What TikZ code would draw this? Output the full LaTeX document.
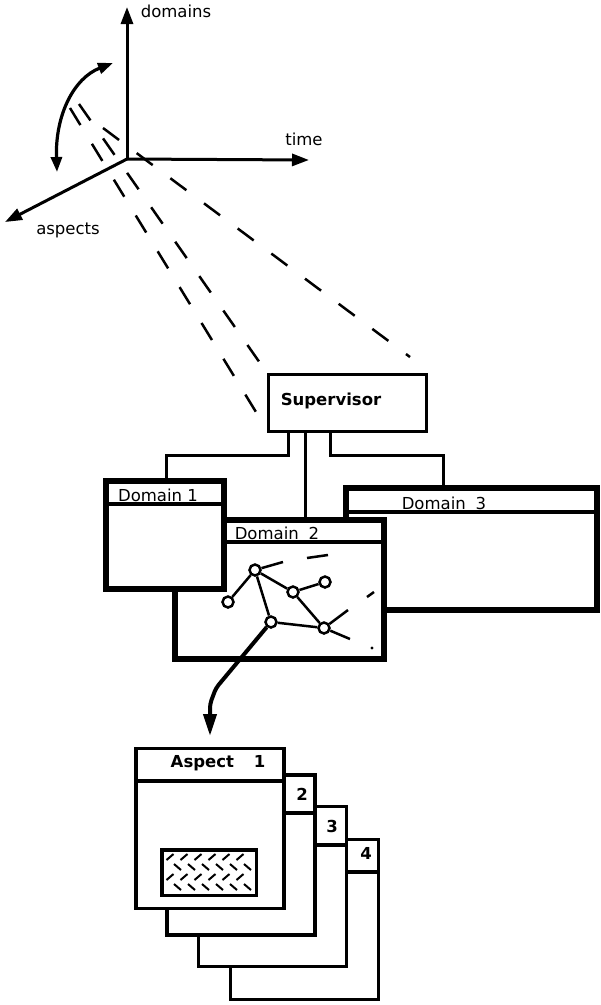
\documentclass[tikz,border=0pt]{standalone}
\usepackage{fontspec}
\setmainfont{DejaVu Sans}
\usetikzlibrary{arrows.meta}
\begin{document}
\begin{tikzpicture}[x=1pt,y=-1pt,
  axis/.style={line width=3pt,-{Triangle[length=17pt,width=12pt]}},
  dashln/.style={line width=2.5pt,dash pattern=on 20pt off 22pt},
  conn/.style={line width=3pt},
  dframe/.style={draw,line width=6pt,fill=white,inner sep=0pt},
  dsep/.style={line width=4pt},
  aframe/.style={draw,line width=3.5pt,fill=white,inner sep=0pt,minimum width=148pt,minimum height=160pt},
  asep/.style={line width=4pt},
  lbl/.style={font=\fontsize{16.5}{17}\selectfont,inner sep=0pt},
  blbl/.style={font=\bfseries\fontsize{16.5}{17}\selectfont,inner sep=0pt},
  net/.style={line width=2.5pt},
  vtx/.style={circle,draw,line width=2.5pt,fill=white,minimum size=11pt,inner sep=0pt},
  hmark/.style={line width=2pt},
]
\useasboundingbox (0,0) rectangle (601,1005);

% ---------- axes ----------
\coordinate (O) at (127,159);
\coordinate (D) at (127,7);
\coordinate (T) at (309,160);
\coordinate (A) at (5,222);

% projection dashed lines
\coordinate (a0) at (103,128);
\coordinate (a1) at (410,357);
\coordinate (b10) at (70,108);
\coordinate (b11) at (267,430);
\coordinate (b20) at (79,104);
\coordinate (b21) at (267,373);
\draw[dashln] (a0) -- (a1);
\draw[dashln] (b10) -- (b11);
\draw[dashln] (b20) -- (b21);

\draw[axis] (O) -- (D);
\draw[axis] (O) -- (T);
\draw[axis] (O) -- (A);
\node[lbl] (ldom) at (176,11) {domains};
\node[lbl] (ltime) at (304,139) {time};
\node[lbl] (lasp) at (68,230) {aspects};

\coordinate (c0) at (57,172);
\coordinate (c1) at (113,63);
\draw[line width=3.2pt,{Triangle[length=15pt,width=11pt]}-{Triangle[length=15pt,width=11pt]}]
  (c0) .. controls (55,115) and (74,78) .. (c1);

% ---------- supervisor ----------
\node[draw,line width=3pt,fill=white,minimum width=158pt,minimum height=57pt,inner sep=0pt] (sup) at (347.5,403) {};
\node[blbl] (supt) at (331,401) {Supervisor};

% connectors
\coordinate (s1) at (288,433);
\coordinate (s1a) at (288,455);
\coordinate (s1b) at (166,455);
\coordinate (s1c) at (166,481);
\coordinate (s2) at (305,433);
\coordinate (s2c) at (305,520);
\coordinate (s3) at (330,433);
\coordinate (s3a) at (330,455);
\coordinate (s3b) at (443,455);
\coordinate (s3c) at (443,488);
\draw[conn] (s1) -- (s1a) -- (s1b) -- (s1c);
\draw[conn] (s2) -- (s2c);
\draw[conn] (s3) -- (s3a) -- (s3b) -- (s3c);

% ---------- domains ----------
\node[dframe,minimum width=251pt,minimum height=122pt] (d3) at (471.5,549) {};
\draw[dsep] ([yshift=-27pt]d3.north west) -- ([yshift=-27pt]d3.north east);
\node[lbl] (d3t) at (444,503) {Domain\hspace{0.6em}3};

\node[dframe,minimum width=209pt,minimum height=139pt] (d2) at (279.5,589.5) {};
\draw[dsep] ([yshift=-25pt]d2.north west) -- ([yshift=-25pt]d2.north east);
\node[lbl] (d2t) at (277,533) {Domain\hspace{0.6em}2};

\node[dframe,minimum width=118pt,minimum height=108pt] (d1) at (165,535) {};
\draw[dsep] ([yshift=-26pt]d1.north west) -- ([yshift=-26pt]d1.north east);
\node[lbl] (d1t) at (158,495) {Domain 1};

% network in domain 2
\node[vtx] (v1) at (255,570) {};
\node[vtx] (v2) at (228,602) {};
\node[vtx] (v3) at (293,592) {};
\node[vtx] (v4) at (325,582) {};
\node[vtx] (v5) at (271,622) {};
\node[vtx] (v6) at (324,628) {};
\draw[net] (v2) -- (v1);
\draw[net] (v1) -- (v3);
\draw[net] (v3) -- (v4);
\draw[net] (v1) -- (v5);
\draw[net] (v3) -- (v6);
\draw[net] (v5) -- (v6);
\coordinate (e1) at (283,562);
\coordinate (e2a) at (307,558);
\coordinate (e2b) at (328,555);
\coordinate (e3a) at (367,597);
\coordinate (e3b) at (374,592);
\coordinate (e4) at (348,610);
\coordinate (e5) at (350,639);
\coordinate (dot) at (372,648);
\draw[net] (v1) -- (e1);
\draw[net] (e2a) -- (e2b);
\draw[net] (e3a) -- (e3b);
\draw[net] (v6) -- (e4);
\draw[net] (v6) -- (e5);
\fill (dot) circle (1.6pt);

% arrow to aspects
\coordinate (p1) at (216,688);
\coordinate (p2) at (210,704);
\coordinate (p3) at (210,736);
\draw[line width=4pt,rounded corners=4pt,-{Triangle[length=22pt,width=13pt]}] (v5) -- (p1) -- (p2) -- (p3);

% ---------- aspects ----------
\node[aframe] (as4) at (304.5,919.5) {};
\draw[asep] ([yshift=-34pt]as4.north west) -- ([yshift=-34pt]as4.north east);
\node[blbl] (as4t) at (366,853) {4};

\node[aframe] (as3) at (272.5,886.5) {};
\draw[asep] ([yshift=-40pt]as3.north west) -- ([yshift=-40pt]as3.north east);
\node[blbl] (as3t) at (332,826) {3};

\node[aframe] (as2) at (241,855) {};
\draw[asep] ([yshift=-40pt]as2.north west) -- ([yshift=-40pt]as2.north east);
\node[blbl] (as2t) at (302,794) {2};

\node[aframe] (as1) at (210,828.5) {};
\draw[asep] ([yshift=-34pt]as1.north west) -- ([yshift=-34pt]as1.north east);
\node[blbl] (as1t) at (218,763) {Aspect\hspace{1.2em}1};

% hatched box
\node[draw,line width=3.5pt,fill=white,minimum width=94.5pt,minimum height=45.5pt,inner sep=0pt] (hb) at (209,872.5) {};
\foreach \y [count=\r] in {857,867,877,887} {
  \foreach \x in {170,184,...,250} {
    \ifodd\r
      \draw[hmark] (\x-3.5,\y+3) -- (\x+3.5,\y-3);
    \else
      \draw[hmark] (\x+4,\y-3) -- (\x+11,\y+3);
    \fi
  }
}
\end{tikzpicture}
\end{document}
